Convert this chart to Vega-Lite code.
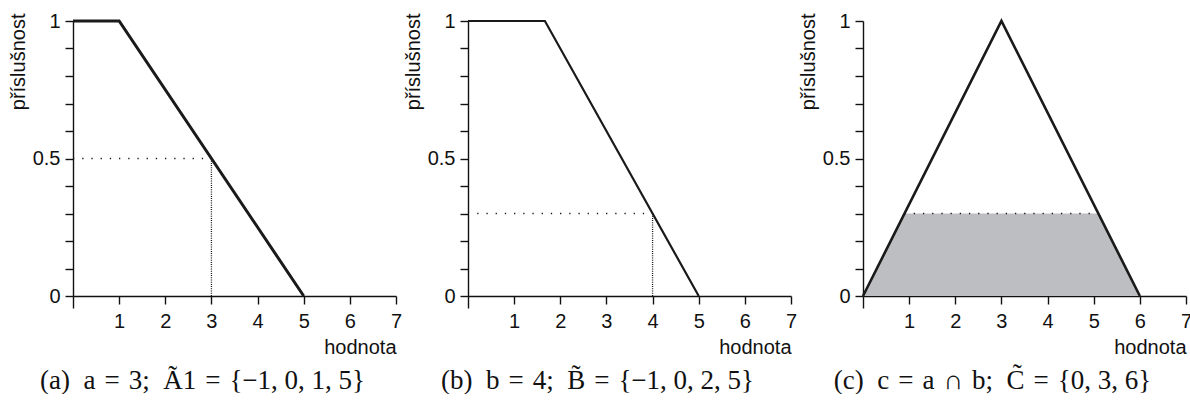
{
  "$schema": "https://vega.github.io/schema/vega-lite/v6.json",
  "background": "white",
  "padding": {"left": 8, "top": 11, "right": 0, "bottom": 0},
  "spacing": 1,
  "config": {
    "view": {"stroke": null},
    "font": "Liberation Sans",
    "axis": {
      "grid": false,
      "domainColor": "#111111",
      "domainWidth": 1.4,
      "tickColor": "#111111",
      "tickWidth": 1.4,
      "labelColor": "#111111",
      "labelFont": "Liberation Sans",
      "labelFontSize": 20,
      "titleFont": "Liberation Sans",
      "titleFontSize": 20,
      "titleFontWeight": "normal",
      "titleColor": "#111111"
    },
    "axisX": {
      "labelExpr": "datum.value == 0 ? '' : datum.label",
      "tickSize": {"condition": {"test": "datum.value == 0", "value": 12}, "value": 8},
      "labelPadding": 7,
      "labelFlush": false,
      "titleAnchor": null,
      "titleX": 323,
      "titleY": 51,
      "titleAlign": "right",
      "titleBaseline": "middle"
    },
    "axisY": {
      "labelExpr": "datum.value == 0 ? '0' : abs(datum.value - 0.5) < 0.001 ? '0.5' : datum.value == 1 ? '1' : ''",
      "tickSize": 8,
      "labelPadding": 5,
      "labelFlush": false,
      "titleAnchor": null,
      "titleAngle": 270,
      "titleX": -55,
      "titleY": -8,
      "titleAlign": "right",
      "titleBaseline": "middle"
    },
    "title": {
      "font": "Liberation Serif",
      "fontSize": 27,
      "fontWeight": "normal",
      "color": "#111111",
      "orient": "bottom",
      "anchor": "middle",
      "offset": 11,
      "dx": -32
    }
  },
  "datasets": {
    "lineA": [{"x": 0, "y": 1}, {"x": 1, "y": 1}, {"x": 5, "y": 0}],
    "dotA": [
      {"x": 0, "x2": 3, "y": 0.5, "y2": 0.5, "dir": "h"},
      {"x": 3, "x2": 3, "y": 0.5, "y2": 0, "dir": "v"}
    ],
    "lineB": [{"x": 0, "y": 1}, {"x": 1.667, "y": 1}, {"x": 5, "y": 0}],
    "dotB": [
      {"x": 0.2, "x2": 4, "y": 0.3, "y2": 0.3, "dir": "h"},
      {"x": 4, "x2": 4, "y": 0.3, "y2": 0, "dir": "v"}
    ],
    "areaC": [{"x": 0, "y": 0}, {"x": 0.9, "y": 0.3}, {"x": 5.1, "y": 0.3}, {"x": 6, "y": 0}],
    "dotC": [{"x": 0.9, "x2": 5.1, "y": 0.3, "y2": 0.3, "dir": "h"}],
    "lineC": [{"x": 0, "y": 0}, {"x": 3, "y": 1}, {"x": 6, "y": 0}]
  },
  "hconcat": [
    {
      "width": 323,
      "height": 275,
      "title": "(a)\u2002a\u2004=\u20043;\u2002Ã1\u2004=\u2004{−1, 0, 1, 5}",
      "encoding": {
        "x": {"field": "x", "type": "quantitative", "title": "hodnota", "axis": {"values": [0, 1, 2, 3, 4, 5, 6, 7]}, "scale": {"domain": [0, 7], "nice": false, "zero": false}},
        "y": {"field": "y", "type": "quantitative", "title": "příslušnost", "axis": {"values": [0, 0.1, 0.2, 0.3, 0.4, 0.5, 0.6, 0.7, 0.8, 0.9, 1]}, "scale": {"domain": [0, 1], "nice": false}}
      },
      "layer": [
        {
          "data": {"name": "dotA"},
          "mark": {"type": "rule", "strokeWidth": 1.3, "color": "#1a1a1a"},
          "encoding": {
            "x2": {"field": "x2"},
            "y2": {"field": "y2"},
            "strokeDash": {"field": "dir", "type": "nominal", "scale": {"domain": ["h", "v"], "range": [[1.3, 7.9], [1, 1.2]]}, "legend": null}
          }
        },
        {
          "data": {"name": "lineA"},
          "mark": {"type": "line", "strokeWidth": 3, "color": "#1a1a1a", "strokeJoin": "miter"},
          "encoding": {}
        }
      ]
    },
    {
      "width": 323,
      "height": 275,
      "title": "(b)\u2002b\u2004=\u20044;\u2002B̃\u2004=\u2004{−1, 0, 2, 5}",
      "encoding": {
        "x": {"field": "x", "type": "quantitative", "title": "hodnota", "axis": {"values": [0, 1, 2, 3, 4, 5, 6, 7]}, "scale": {"domain": [0, 7], "nice": false, "zero": false}},
        "y": {"field": "y", "type": "quantitative", "title": "příslušnost", "axis": {"values": [0, 0.1, 0.2, 0.3, 0.4, 0.5, 0.6, 0.7, 0.8, 0.9, 1]}, "scale": {"domain": [0, 1], "nice": false}}
      },
      "layer": [
        {
          "data": {"name": "dotB"},
          "mark": {"type": "rule", "strokeWidth": 1.3, "color": "#1a1a1a"},
          "encoding": {
            "x2": {"field": "x2"},
            "y2": {"field": "y2"},
            "strokeDash": {"field": "dir", "type": "nominal", "scale": {"domain": ["h", "v"], "range": [[1.3, 8.4], [1, 1.2]]}, "legend": null}
          }
        },
        {
          "data": {"name": "lineB"},
          "mark": {"type": "line", "strokeWidth": 2.2, "color": "#1a1a1a", "strokeJoin": "miter"},
          "encoding": {}
        }
      ]
    },
    {
      "width": 323,
      "height": 275,
      "title": "(c)\u2002c\u2004=\u2004a\u2004∩\u2004b;\u2002C̃\u2004=\u2004{0, 3, 6}",
      "encoding": {
        "x": {"field": "x", "type": "quantitative", "title": "hodnota", "axis": {"values": [0, 1, 2, 3, 4, 5, 6, 7]}, "scale": {"domain": [0, 7], "nice": false, "zero": false}},
        "y": {"field": "y", "type": "quantitative", "title": "příslušnost", "axis": {"values": [0, 0.1, 0.2, 0.3, 0.4, 0.5, 0.6, 0.7, 0.8, 0.9, 1]}, "scale": {"domain": [0, 1], "nice": false}}
      },
      "layer": [
        {
          "data": {"name": "areaC"},
          "mark": {"type": "area", "color": "#bdbec2", "opacity": 1},
          "encoding": {}
        },
        {
          "data": {"name": "dotC"},
          "mark": {"type": "rule", "strokeWidth": 1.3, "color": "#1a1a1a", "strokeDash": [1.3, 7.9]},
          "encoding": {
            "x2": {"field": "x2"},
            "y2": {"field": "y2"}
          }
        },
        {
          "data": {"name": "lineC"},
          "mark": {"type": "line", "strokeWidth": 2.6, "color": "#1a1a1a", "strokeJoin": "miter"},
          "encoding": {}
        }
      ]
    }
  ]
}
